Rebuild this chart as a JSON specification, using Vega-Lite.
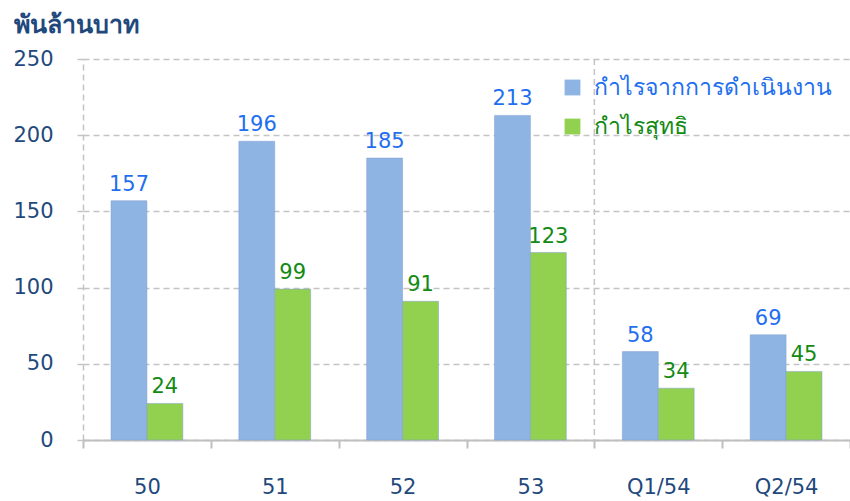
{
  "$schema": "https://vega.github.io/schema/vega-lite/v6.json",
  "width": 767,
  "height": 381,
  "autosize": {"type": "none"},
  "padding": {"left": 83, "top": 59, "right": 0, "bottom": 61},
  "background": "white",
  "config": {"view": {"stroke": null}, "font": "DejaVu Sans"},
  "data": {
    "values": [
      {"period": "50", "series": "กำไรจากการดำเนินงาน", "value": 157},
      {"period": "50", "series": "กำไรสุทธิ", "value": 24},
      {"period": "51", "series": "กำไรจากการดำเนินงาน", "value": 196},
      {"period": "51", "series": "กำไรสุทธิ", "value": 99},
      {"period": "52", "series": "กำไรจากการดำเนินงาน", "value": 185},
      {"period": "52", "series": "กำไรสุทธิ", "value": 91},
      {"period": "53", "series": "กำไรจากการดำเนินงาน", "value": 213},
      {"period": "53", "series": "กำไรสุทธิ", "value": 123},
      {"period": "Q1/54", "series": "กำไรจากการดำเนินงาน", "value": 58},
      {"period": "Q1/54", "series": "กำไรสุทธิ", "value": 34},
      {"period": "Q2/54", "series": "กำไรจากการดำเนินงาน", "value": 69},
      {"period": "Q2/54", "series": "กำไรสุทธิ", "value": 45}
    ]
  },
  "layer": [
    {
      "mark": {"type": "bar", "stroke": "#7f9fcf", "strokeWidth": 0.5},
      "encoding": {
        "x": {
          "field": "period", "type": "nominal",
          "scale": {"domain": ["50", "51", "52", "53", "Q1/54", "Q2/54"], "paddingInner": 0, "paddingOuter": 0},
          "axis": {
            "title": null, "labelAngle": 0, "tickBand": "extent", "grid": false,
            "domainColor": "#bfbfbf", "domainWidth": 2, "tickColor": "#bfbfbf", "tickWidth": 2, "tickSize": 8,
            "labelPadding": 28, "labelFontSize": 21, "labelColor": "#1F497D"
          }
        },
        "xOffset": {
          "field": "series", "type": "nominal",
          "scale": {"domain": ["กำไรจากการดำเนินงาน", "กำไรสุทธิ"], "paddingInner": 0, "paddingOuter": 0.78}
        },
        "y": {
          "field": "value", "type": "quantitative",
          "scale": {"domain": [0, 250], "nice": false},
          "axis": {
            "values": [0, 50, 100, 150, 200, 250],
            "title": "พันล้านบาท", "titleAngle": 0, "titleAlign": "left", "titleBaseline": "middle",
            "titleX": -70, "titleY": -35, "titleFontSize": 25, "titleColor": "#1F497D", "titleFontWeight": "bold",
            "grid": true, "gridDash": [6, 4], "gridColor": "#c4c4c4", "gridWidth": 1.5,
            "domainDash": [6, 4], "domainColor": "#c4c4c4", "domainWidth": 1.5,
            "tickColor": "#c4c4c4", "tickSize": 6, "tickWidth": 1.5,
            "labelPadding": 24, "labelFontSize": 21, "labelColor": "#1F497D"
          }
        },
        "color": {
          "field": "series", "type": "nominal",
          "scale": {"domain": ["กำไรจากการดำเนินงาน", "กำไรสุทธิ"], "range": ["#8EB4E3", "#92D050"]},
          "legend": {
            "title": null, "orient": "none", "legendX": 478, "legendY": 17,
            "symbolType": "square", "symbolSize": 250, "symbolStrokeWidth": 0,
            "labelFontSize": 23, "labelLimit": 400, "rowPadding": 15, "labelOffset": 10,
            "labelColor": {"expr": "datum.value === 'กำไรสุทธิ' ? '#138A13' : '#1F6FEF'"}
          }
        }
      }
    },
    {
      "mark": {"type": "text", "baseline": "bottom", "dy": -6, "fontSize": 21},
      "encoding": {
        "x": {"field": "period", "type": "nominal"},
        "xOffset": {"field": "series", "type": "nominal"},
        "y": {"field": "value", "type": "quantitative"},
        "text": {"field": "value", "type": "quantitative"},
        "fill": {
          "field": "series", "type": "nominal",
          "scale": {"domain": ["กำไรจากการดำเนินงาน", "กำไรสุทธิ"], "range": ["#1F6FEF", "#138A13"]},
          "legend": null
        }
      }
    },
    {
      "data": {"values": [{"period": "Q1/54"}]},
      "mark": {"type": "rule", "strokeDash": [6, 4], "color": "#c4c4c4", "strokeWidth": 1.5},
      "encoding": {
        "x": {"field": "period", "type": "nominal", "bandPosition": 0}
      }
    }
  ]
}
